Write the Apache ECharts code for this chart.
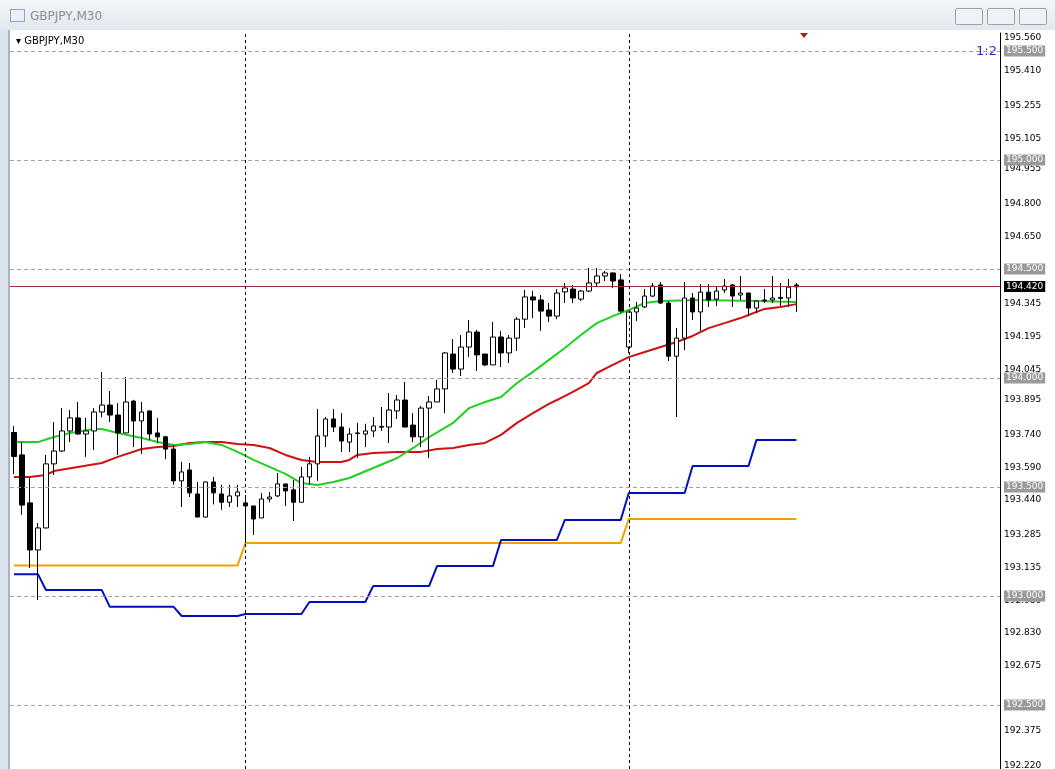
<!DOCTYPE html>
<html>
<head>
<meta charset="utf-8">
<script src="https://cdn.jsdelivr.net/npm/echarts@6/dist/echarts.min.js"></script>
<style>
  body { margin: 0; width: 1055px; height: 769px; overflow: hidden; background: #dce3ec; font-family: Tahoma, "DejaVu Sans", sans-serif; }
  #title { position: absolute; left: 0; top: 0; width: 1055px; height: 30px; background: linear-gradient(#f4f6f9, #e3e8ef); }
  #title span { position: absolute; left: 30px; top: 9px; font-size: 12px; color: #8a8f96; }
  #icon { position: absolute; left: 10px; top: 9px; width: 13px; height: 11px; border: 1px solid #8aa; background: #eef; }
  .btn { position: absolute; top: 8px; width: 26px; height: 15px; border: 1px solid #9aa3ad; border-radius: 2px; background: #eef1f5; }
  #frame { position: absolute; left: 8px; top: 30px; width: 1047px; height: 739px; background: #fff; border-left: 2px solid #a8b4c2; }
  #chart { position: absolute; left: 10px; top: 31px; width: 1043px; height: 738px; }
</style>
</head>
<body>
<div id="title"><div id="icon"></div><span>GBPJPY,M30</span>
  <div class="btn" style="left:955px"></div><div class="btn" style="left:987px"></div><div class="btn" style="left:1019px"></div>
</div>
<div id="frame"></div>
<div id="chart"></div>
<script>
// candles: [open, close, low, high]
var candles = [
  [193.75,193.64,193.56,193.78],[193.647,193.417,193.372,193.706],[193.427,193.211,193.128,193.541],[193.211,193.312,192.982,193.335],
  [193.312,193.606,193.31,193.647],[193.606,193.665,193.555,193.798],[193.665,193.757,193.66,193.862],[193.757,193.817,193.706,193.853],
  [193.817,193.743,193.74,193.89],[193.743,193.757,193.638,193.817],[193.757,193.844,193.67,193.862],[193.844,193.876,193.82,194.028],
  [193.876,193.83,193.798,193.94],[193.83,193.748,193.647,193.885],[193.748,193.89,193.748,194.005],[193.894,193.803,193.683,193.9],
  [193.803,193.844,193.651,193.89],[193.849,193.743,193.715,193.85],[193.748,193.73,193.7,193.817],[193.73,193.674,193.628,193.735],
  [193.674,193.528,193.51,193.693],[193.528,193.569,193.408,193.615],[193.578,193.473,193.454,193.61],[193.468,193.362,193.362,193.523],
  [193.362,193.523,193.36,193.525],[193.523,193.473,193.42,193.546],[193.468,193.43,193.395,193.51],[193.43,193.459,193.408,193.51],
  [193.459,193.477,193.408,193.51],[193.427,193.413,193.243,193.463],[193.413,193.353,193.28,193.413],[193.358,193.445,193.358,193.472],
  [193.445,193.454,193.43,193.477],[193.459,193.514,193.454,193.564],[193.514,193.482,193.413,193.514],[193.487,193.43,193.344,193.532],
  [193.43,193.546,193.43,193.592],[193.546,193.606,193.51,193.638],[193.606,193.734,193.528,193.858],[193.734,193.812,193.683,193.821],
  [193.812,193.775,193.752,193.858],[193.775,193.711,193.66,193.839],[193.706,193.743,193.66,193.77],[193.745,193.748,193.633,193.794],
  [193.743,193.757,193.683,193.79],[193.757,193.78,193.729,193.821],[193.774,193.778,193.757,193.867],[193.775,193.853,193.702,193.931],
  [193.849,193.899,193.812,193.922],[193.899,193.775,193.775,193.982],[193.784,193.73,193.706,193.839],[193.73,193.862,193.683,193.872],
  [193.862,193.89,193.633,193.917],[193.89,193.95,193.89,193.991],[193.95,194.115,193.839,194.119],[194.11,194.041,194.023,194.179],
  [194.041,194.142,194.009,194.197],[194.142,194.211,194.096,194.266],[194.211,194.106,194.032,194.22],[194.11,194.06,194.055,194.11],
  [194.06,194.188,194.06,194.257],[194.188,194.115,194.05,194.216],[194.115,194.183,194.069,194.197],[194.183,194.27,194.124,194.28],
  [194.27,194.372,194.23,194.404],[194.372,194.358,194.275,194.4],[194.358,194.307,194.216,194.381],[194.312,194.284,194.257,194.344],
  [194.284,194.39,194.27,194.408],[194.395,194.413,194.344,194.436],[194.408,194.367,194.344,194.427],[194.362,194.399,194.353,194.404],
  [194.399,194.436,194.394,194.505],[194.436,194.468,194.417,194.505],[194.468,194.482,194.445,194.491],[194.482,194.445,194.413,194.485],
  [194.45,194.307,194.3,194.477],[194.142,194.303,194.115,194.303],[194.303,194.321,194.261,194.349],[194.326,194.376,194.321,194.408],
  [194.376,194.422,194.372,194.436],[194.427,194.344,194.34,194.44],[194.344,194.1,194.078,194.353],[194.1,194.183,193.821,194.229],
  [194.183,194.367,194.128,194.44],[194.367,194.303,194.266,194.39],[194.303,194.394,194.216,194.431],[194.394,194.358,194.326,194.431],
  [194.362,194.399,194.33,194.417],[194.404,194.422,194.39,194.454],[194.427,194.376,194.326,194.431],[194.381,194.39,194.358,194.468],
  [194.39,194.321,194.284,194.39],[194.321,194.353,194.298,194.358],[194.358,194.353,194.344,194.408],[194.358,194.367,194.344,194.468],
  [194.365,194.37,194.33,194.436],[194.367,194.417,194.326,194.454],[194.427,194.418,194.303,194.436]
];
// moving averages read at candle indices: [index, price]
var maRed = [[0,193.546],[2,193.546],[4,193.555],[5,193.573],[8,193.592],[11,193.610],[13,193.638],[16,193.674],[18,193.683],
  [20,193.688],[22,193.702],[24,193.706],[26,193.706],[28,193.697],[30,193.693],[32,193.679],[34,193.647],[36,193.624],[38,193.615],
  [41,193.615],[42,193.624],[43,193.647],[45,193.656],[48,193.661],[51,193.661],[53,193.674],[55,193.679],[57,193.693],[59,193.702],
  [61,193.739],[63,193.794],[65,193.839],[67,193.881],[68,193.899],[70,193.936],[72,193.977],[73,194.023],[75,194.060],[77,194.096],
  [79,194.119],[81,194.142],[83,194.165],[85,194.193],[87,194.229],[89,194.252],[91,194.275],[92,194.289],[94,194.317],[96,194.326],[98,194.339]];
var maGreen = [[0,193.706],[3,193.706],[5,193.729],[7,193.748],[10,193.766],[11,193.766],[13,193.748],[16,193.725],[18,193.706],
  [20,193.693],[22,193.697],[24,193.706],[26,193.693],[28,193.661],[30,193.624],[32,193.592],[34,193.560],[36,193.518],[38,193.509],
  [40,193.523],[42,193.541],[45,193.587],[48,193.633],[50,193.679],[52,193.729],[55,193.794],[57,193.862],[59,193.890],[61,193.913],
  [63,193.977],[65,194.028],[67,194.083],[69,194.138],[71,194.197],[73,194.252],[75,194.284],[77,194.312],[79,194.344],[81,194.353],
  [86,194.358],[93,194.353],[98,194.349]];
// step levels
var blueStart = [0, 4, 12, 21, 29, 37, 45, 53, 61, 69, 77, 85, 93];
var blueLevel = [193.10, 193.027, 192.95, 192.908, 192.917, 192.972, 193.046, 193.138, 193.257, 193.349, 193.472, 193.596, 193.716];
var orangeStart = [0, 29, 77];
var orangeLevel = [193.14, 193.243, 193.353];
var roundLevels = [195.5, 195.0, 194.5, 194.0, 193.5, 193.0, 192.5];
var axisLabels = [195.560, 195.410, 195.255, 195.105, 194.955, 194.800, 194.650, 194.345, 194.195, 194.045, 193.895, 193.740,
  193.590, 193.440, 193.285, 193.135, 192.980, 192.830, 192.675, 192.375, 192.220];
var currentPrice = 194.420;
var daySeparators = [29, 77];
var slotCount = 124;

var cats = [];
for (var i = 0; i < slotCount; i++) cats.push(i);

function steps(starts, levels, last) {
  var out = [];
  for (var k = 0; k < starts.length; k++) {
    var end = k + 1 < starts.length ? starts[k + 1] - 1 : last;
    out.push([starts[k], levels[k]]);
    out.push([end, levels[k]]);
  }
  return out;
}
var lastIdx = candles.length - 1;

var markData = [];
axisLabels.forEach(function (v) {
  markData.push({ yAxis: v, lineStyle: { color: 'rgba(0,0,0,0)', width: 1 }, label: { formatter: v.toFixed(3), color: '#000' } });
});
roundLevels.forEach(function (v) {
  markData.push({ yAxis: v, lineStyle: { color: '#a0a0a0', type: [4, 3], width: 1 },
    label: { formatter: v.toFixed(3), backgroundColor: '#9a9a9a', color: '#fff', padding: [1, 2] } });
});
markData.push({ yAxis: currentPrice, lineStyle: { color: '#a03030', type: 'solid', width: 1 },
  label: { formatter: currentPrice.toFixed(3), backgroundColor: '#000', color: '#fff', padding: [1, 2] } });
daySeparators.forEach(function (v) {
  markData.push({ xAxis: v, lineStyle: { color: '#000', type: [3, 3], width: 1 }, label: { show: false } });
});

var chart = echarts.init(document.getElementById('chart'));
chart.setOption({
  animation: false,
  backgroundColor: '#fff',
  grid: { left: 0, right: 53, top: 2, bottom: 0 },
  xAxis: { type: 'category', data: cats, boundaryGap: true, axisLine: { show: false }, axisTick: { show: false },
    axisLabel: { show: false }, splitLine: { show: false } },
  yAxis: { type: 'value', position: 'right', min: 192.206, max: 195.583, splitLine: { show: false },
    axisLine: { show: true, lineStyle: { color: '#000' } }, axisTick: { show: false }, axisLabel: { show: false } },
  graphic: [
    { type: 'text', left: 6, top: 5, style: { text: '▾ GBPJPY,M30', font: '10px Tahoma, "DejaVu Sans", sans-serif', fill: '#000' } },
    { type: 'text', left: 966, top: 14, style: { text: '1:2', font: '13px "DejaVu Sans", sans-serif', fill: '#2030d0' } },
    { type: 'polygon', shape: { points: [[790, 2], [798, 2], [794, 7]] }, style: { fill: '#a02020' } }
  ],
  series: [
    { type: 'line', data: steps(orangeStart, orangeLevel, lastIdx), symbol: 'none', lineStyle: { color: '#f0a000', width: 2 }, z: 2 },
    { type: 'line', data: steps(blueStart, blueLevel, lastIdx), symbol: 'none', lineStyle: { color: '#0010c0', width: 2 }, z: 2 },
    { type: 'line', data: maRed, symbol: 'none', lineStyle: { color: '#d01010', width: 2 }, z: 3 },
    { type: 'line', data: maGreen, symbol: 'none', lineStyle: { color: '#20d020', width: 2 }, z: 3 },
    { type: 'candlestick', data: candles, barWidth: 5, z: 4,
      itemStyle: { color: '#fff', color0: '#000', borderColor: '#000', borderColor0: '#000', borderWidth: 1 },
      markLine: { silent: true, symbol: 'none', animation: false,
        label: { position: 'end', fontSize: 9, fontFamily: 'Tahoma, "DejaVu Sans", sans-serif', distance: 4 },
        data: markData } }
  ]
});
</script>
</body>
</html>
